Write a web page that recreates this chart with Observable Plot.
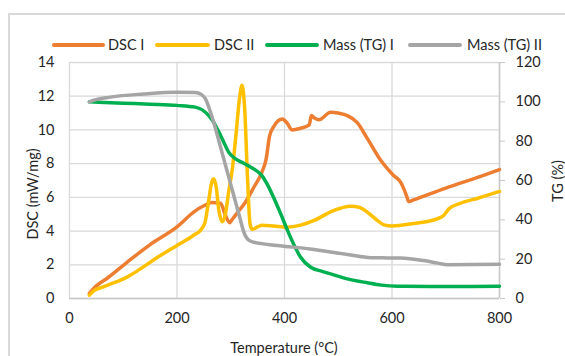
<!DOCTYPE html>
<html>
<head>
<meta charset="utf-8">
<script src="https://cdn.jsdelivr.net/npm/d3@7"></script>
<script src="https://cdn.jsdelivr.net/npm/@observablehq/plot@0.6"></script>
<style>
  html, body { margin: 0; padding: 0; background: #fff; }
  #wrap { position: relative; width: 565px; height: 356px; overflow: hidden; font-family: Lato, "Open Sans", sans-serif; color: #262626; }
  #frame { position: absolute; left: 8px; top: 13px; width: 620px; height: 400px; border: 2px solid #d9d9d9; box-sizing: border-box; }
  #chart { position: absolute; left: 0; top: 0; }
  .lab { position: absolute; font-size: 14.5px; white-space: nowrap; }
  #legend { position: absolute; top: 37px; left: 0; height: 16px; }
  .li { position: absolute; top: 0; font-size: 14.5px; line-height: 16px; white-space: nowrap; }
  .sw { position: absolute; top: 6px; height: 4px; border-radius: 2px; }
</style>
</head>
<body>
<div id="wrap">
  <div id="frame"></div>
  <div id="chart"></div>
  <div id="legend"></div>
  <div class="lab" id="ylab" style="left:32px; top:194px; transform: translate(-50%,-50%) rotate(-90deg);">DSC (mW/mg)</div>
  <div class="lab" id="y2lab" style="left:557px; top:181px; transform: translate(-50%,-50%) rotate(-90deg);">TG (%)</div>
  <div class="lab" id="xlab" style="left:284px; top:347px; transform: translate(-50%,-50%);">Temperature (°C)</div>
</div>
<script>
// ---- data ----
const xTicks = [0, 200, 400, 600, 800];
const dscTicks = [0, 2, 4, 6, 8, 10, 12, 14];
const tgTicks = [0, 20, 40, 60, 80, 100, 120];
const seriesNames = ["DSC I", "DSC II", "Mass (TG) I", "Mass (TG) II"];
const seriesColors = ["#ED7D31", "#FFC000", "#00B050", "#A5A5A5"];

const dsc1T = [37, 50, 70, 107, 150, 200, 234, 250, 265, 281, 290, 298, 303, 315, 327, 343, 358, 366, 372, 380, 396, 405, 414, 430, 446, 450, 456, 464, 486, 500, 517, 535, 554, 579, 603, 616, 622, 628, 631, 640, 700, 765, 800];
const dsc1V = [0.3, 0.75, 1.2, 2.15, 3.2, 4.25, 5.2, 5.5, 5.7, 5.65, 4.95, 4.5, 4.7, 5.2, 5.7, 6.6, 7.5, 8.3, 9.6, 10.2, 10.65, 10.4, 10.0, 10.1, 10.3, 10.85, 10.7, 10.6, 11.05, 11.0, 10.85, 10.45, 9.5, 8.2, 7.3, 6.9, 6.5, 6.0, 5.75, 5.85, 6.55, 7.25, 7.65];

const dsc2T = [37, 45, 64, 107, 169, 200, 231, 245, 252, 258, 264, 268, 273, 278, 284, 290, 296, 303, 310, 316, 321, 326, 331, 336, 340, 350, 358, 380, 405, 430, 455, 490, 523, 540, 554, 570, 585, 600, 640, 684, 696, 706, 727, 760, 800];
const dsc2V = [0.2, 0.45, 0.7, 1.27, 2.55, 3.15, 3.75, 4.1, 4.5, 5.6, 6.8, 7.1, 6.6, 5.2, 4.55, 5.0, 6.3, 7.7, 9.8, 11.8, 12.65, 11.2, 7.3, 4.4, 4.1, 4.25, 4.35, 4.3, 4.23, 4.35, 4.63, 5.2, 5.47, 5.4, 5.12, 4.7, 4.37, 4.3, 4.45, 4.73, 4.92, 5.32, 5.65, 5.95, 6.35];

const tg1T = [37, 100, 150, 200, 234, 259, 268, 278, 287, 296, 309, 324, 334, 345, 358, 368, 377, 393, 405, 411, 430, 448, 470, 486, 517, 554, 580, 610, 672, 800];
const tg1V = [100, 99.3, 98.8, 98.2, 97.3, 93, 89.7, 84.6, 79.5, 74.4, 71, 68.8, 67.3, 65.5, 62.5, 58, 53, 43, 35, 31.2, 21, 16, 13.8, 12.5, 10, 8, 6.8, 6.2, 6.1, 6.2];

const tg2T = [37, 45, 76, 138, 200, 234, 245, 253, 262, 270, 278, 286, 296, 308, 318, 324, 332, 343, 386, 448, 517, 566, 616, 659, 685, 703, 800];
const tg2V = [100, 100.8, 102.4, 104, 104.9, 104.8, 103.8, 101.5, 95, 88, 80, 72, 62, 50, 40, 34, 30, 28.6, 27, 25.2, 22.4, 20.7, 20.6, 19.3, 18, 17.2, 17.4];

// ---- build ----
const tgToDsc = v => v * 14 / 120;
const rows = (T, V, s, conv) => T.map((t, i) => ({T: t, v: conv ? conv(V[i]) : V[i], s}));
const data = [
  ...rows(dsc1T, dsc1V, seriesNames[0]),
  ...rows(dsc2T, dsc2V, seriesNames[1]),
  ...rows(tg1T, tg1V, seriesNames[2], tgToDsc),
  ...rows(tg2T, tg2V, seriesNames[3], tgToDsc)
];

const chart = Plot.plot({
  width: 565,
  height: 356,
  marginLeft: 69,
  marginRight: 66,
  marginTop: 62,
  marginBottom: 58,
  style: {fontFamily: "Lato, 'Open Sans', sans-serif", fontSize: "14.5px", color: "#262626", background: "transparent", overflow: "visible"},
  x: {domain: [0, 800]},
  y: {domain: [0, 14]},
  color: {domain: seriesNames, range: seriesColors},
  marks: [
    Plot.gridX(xTicks, {stroke: "#d9d9d9", strokeOpacity: 1, strokeWidth: 1.3}),
    Plot.gridY(dscTicks, {stroke: "#d9d9d9", strokeOpacity: 1, strokeWidth: 1.3}),
    Plot.ruleY([0], {stroke: "#c8c8c8", strokeWidth: 1.5}),
    Plot.ruleX([800], {stroke: "#c8c8c8", strokeWidth: 1.5}),
    Plot.axisX(xTicks, {tickSize: 0, tickPadding: 14, label: null}),
    Plot.axisY(dscTicks, {anchor: "left", tickSize: 0, tickPadding: 15, label: null}),
    Plot.axisY(tgTicks.map(tgToDsc), {anchor: "right", tickSize: 5, tickPadding: 11, stroke: "#c8c8c8", textAnchor: "start",
      tickFormat: d => String(Math.round(d * 120 / 14)), label: null}),
    Plot.line(data, {x: "T", y: "v", z: "s", stroke: "s", strokeWidth: 3.5, curve: "monotone-x"})
  ]
});
document.getElementById("chart").appendChild(chart);

// legend
const legendItems = [
  {x0: 52, x1: 105, tx: 108},
  {x0: 155, x1: 210, tx: 214},
  {x0: 265, x1: 319, tx: 323},
  {x0: 408, x1: 462, tx: 467}
];
const leg = document.getElementById("legend");
seriesNames.forEach((name, i) => {
  const it = legendItems[i];
  const sw = document.createElement("div");
  sw.className = "sw";
  sw.style.left = it.x0 + "px";
  sw.style.width = (it.x1 - it.x0) + "px";
  sw.style.background = seriesColors[i];
  leg.appendChild(sw);
  const t = document.createElement("div");
  t.className = "li";
  t.style.left = it.tx + "px";
  t.textContent = name;
  leg.appendChild(t);
});
</script>
</body>
</html>
